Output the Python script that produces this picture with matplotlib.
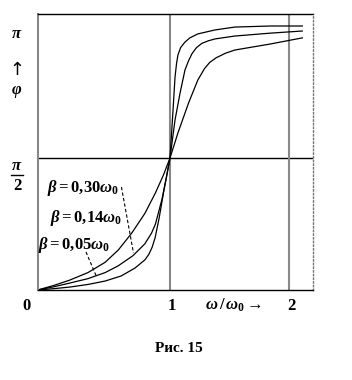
import numpy as np
import matplotlib.pyplot as plt
from matplotlib.lines import Line2D

plt.rcParams['mathtext.fontset'] = 'custom'
plt.rcParams['mathtext.rm'] = 'Liberation Serif:bold'
plt.rcParams['mathtext.bf'] = 'Liberation Serif:bold'
plt.rcParams['mathtext.it'] = 'Liberation Serif:bold:italic'
plt.rcParams['font.family'] = ['Liberation Serif', 'DejaVu Sans']
plt.rcParams['font.weight'] = 'bold'

# omega / omega0 and phase (in units of pi)
w_030 = [0, 0.12, 0.24, 0.38, 0.51, 0.61, 0.71, 0.81, 0.89, 0.95, 1.0,
         1.06, 1.14, 1.21, 1.26, 1.3, 1.35, 1.42, 1.49, 1.76, 2.0]
phi_030 = [0, 0.017, 0.037, 0.066, 0.105, 0.152, 0.215, 0.29, 0.368, 0.435, 0.5,
           0.595, 0.708, 0.795, 0.838, 0.862, 0.880, 0.897, 0.909, 0.932, 0.955]

w_014 = [0, 0.12, 0.24, 0.38, 0.51, 0.61, 0.72, 0.81, 0.86, 0.89, 0.94, 0.975, 1.0,
         1.038, 1.076, 1.113, 1.14, 1.166, 1.2, 1.24, 1.29, 1.34, 1.49, 1.76, 2.0]
phi_014 = [0, 0.012, 0.026, 0.043, 0.066, 0.092, 0.13, 0.175, 0.215, 0.25, 0.345, 0.432, 0.5,
           0.644, 0.746, 0.833, 0.868, 0.895, 0.918, 0.934, 0.944, 0.951, 0.962, 0.973, 0.981]

w_005 = [0, 0.12, 0.24, 0.38, 0.51, 0.63, 0.735, 0.81, 0.84, 0.865, 0.887, 0.917, 0.955, 1.0,
         1.023, 1.038, 1.05, 1.06, 1.08, 1.113, 1.15, 1.21, 1.34, 1.49, 1.76, 2.0]
phi_005 = [0, 0.005, 0.011, 0.021, 0.034, 0.053, 0.083, 0.114, 0.135, 0.162, 0.197, 0.27, 0.38, 0.5,
           0.682, 0.807, 0.86, 0.89, 0.918, 0.939, 0.955, 0.970, 0.985, 0.996, 1.0, 1.0]

labels = [r'$\beta = 0{,}30\omega_0$', r'$\beta = 0{,}14\omega_0$', r'$\beta = 0{,}05\omega_0$']
label_x = [0.068, 0.093, 0.002]
label_y = [0.386, 0.273, 0.170]

# leader lines (x, phi/pi)
lead1_x, lead1_y = [0.633, 0.724], [0.390, 0.140]
lead2_x, lead2_y = [0.365, 0.446], [0.144, 0.049]

W, H = 352, 380
fig = plt.figure(figsize=(W / 100, H / 100), dpi=100)
ax = fig.add_axes([37.7 / W, 1 - 290 / H, (313 - 37.7) / W, 276 / H])
ax.set_xlim(0, (313 - 37.7) / 132.3)
ax.set_ylim(0, 276 / 264 * np.pi)
ax.set_xticks([])
ax.set_yticks([])

ax.spines['left'].set_color('#888888')
ax.spines['left'].set_linewidth(1.5)
ax.spines['bottom'].set_linewidth(1.0)
ax.spines['top'].set_linewidth(1.0)
ax.spines['right'].set_color('#777777')
ax.spines['right'].set_linestyle(':')
ax.spines['right'].set_linewidth(1.0)

ax.axhline(np.pi / 2, color='black', lw=1.0)
ax.axvline(1.0, color='#888888', lw=1.5)
ax.axvline(1.9, color='#888888', lw=1.5)

for w, p in [(w_030, phi_030), (w_014, phi_014), (w_005, phi_005)]:
    ax.plot(w, np.array(p) * np.pi, color='black', lw=0.9)

ax.plot(lead1_x, np.array(lead1_y) * np.pi, color='black', lw=0.8, ls=(0, (3, 2)))
ax.plot(lead2_x, np.array(lead2_y) * np.pi, color='black', lw=0.8, ls=(0, (3, 2)))

for t, x, y in zip(labels, label_x, label_y):
    ax.text(x, y * np.pi, t, fontsize=12, ha='left', va='center')


def ftext(px, py, s, **kw):
    fig.text(px / W, 1 - py / H, s, ha='center', va='center', **kw)


ftext(26.7, 305.5, '0', fontsize=12)
ftext(172, 305.5, '1', fontsize=12)
ftext(291, 305.5, '2', fontsize=12)
ftext(233, 305, r'$\omega\,/\,\omega_0 \rightarrow$', fontsize=12)
ftext(179, 349, 'Рис. 15', fontsize=11)

ftext(17, 34, r'$\pi$', fontsize=12)
ftext(17, 70, '↑', fontsize=13, family='DejaVu Sans', fontweight='normal')
ftext(17, 92, r'$\varphi$', fontsize=12)
ftext(17, 166, r'$\pi$', fontsize=12)
ftext(17, 186, '2', fontsize=12)
fig.add_artist(Line2D([11 / W, 23 / W], [1 - 175 / H, 1 - 175 / H], color='black', lw=1.0))

fig.savefig('out.png', dpi=100)
